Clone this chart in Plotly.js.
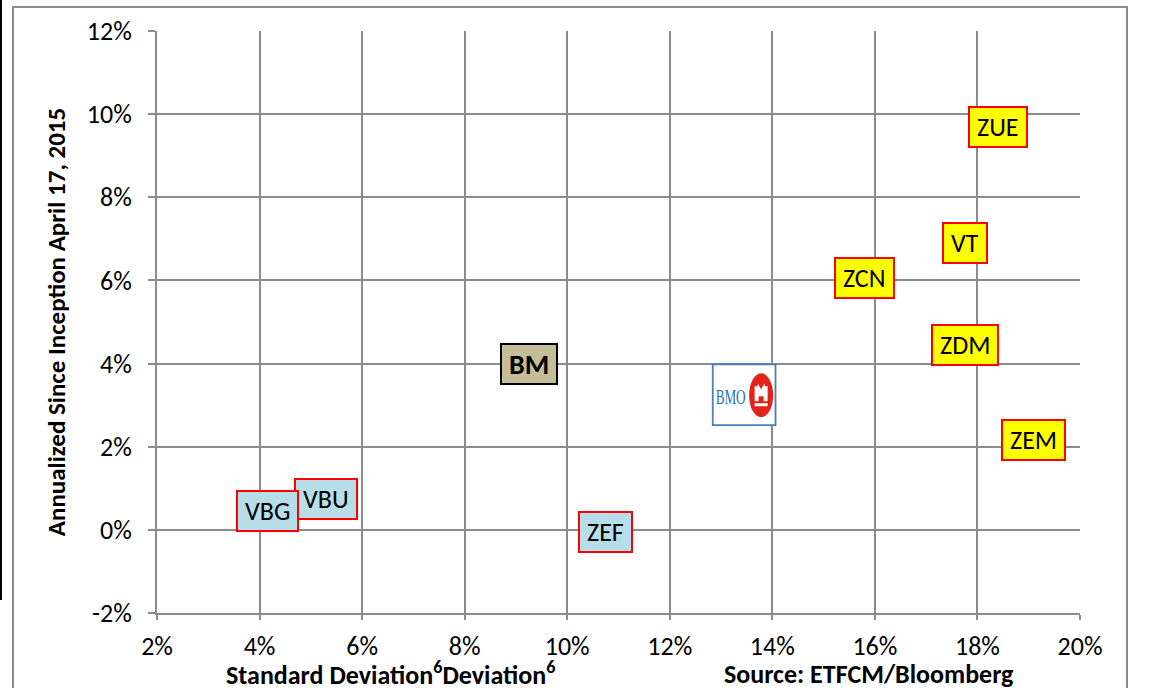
<!DOCTYPE html>
<html>
<head>
<meta charset="utf-8">
<script src="https://cdn.plot.ly/plotly-3.0.1.min.js"></script>
<style>html,body{margin:0;padding:0;background:#fff;}#chart{width:1153px;height:688px;}</style>
</head>
<body>
<div id="chart"></div>
<script>
// ---- data ----
const tickers   = ["ZUE", "VT", "ZCN", "ZDM", "ZEM", "ZEF", "VBU", "VBG", "BM"];
const stdDev    = [18.4, 17.75, 15.8, 17.75, 19.1, 10.75, 5.3, 4.15, 9.25];   // %
const annReturn = [9.7, 6.9, 6.05, 4.45, 2.15, -0.05, 0.75, 0.45, 4.0];       // %
const groups    = ["equity", "equity", "equity", "equity", "equity", "bond", "bond", "bond", "benchmark"];
const bmoPoint  = {x: 13.45, y: 3.25};
const xTicks    = [2, 4, 6, 8, 10, 12, 14, 16, 18, 20];
const yTicks    = [-2, 0, 2, 4, 6, 8, 10, 12];

// ---- styling ----
const FONT = "Carlito, Lato, 'Liberation Sans', sans-serif";
const groupStyle = {
  equity:    {bg: "#ffff00", border: "#ff0000", bold: false, size: 26},
  bond:      {bg: "#b7dde8", border: "#ff0000", bold: false, size: 26},
  benchmark: {bg: "#c4bd97", border: "#000000", bold: true,  size: 28}
};

const annotations = tickers.map((t, i) => {
  const s = groupStyle[groups[i]];
  return {
    x: stdDev[i], y: annReturn[i], xref: "x", yref: "y",
    text: s.bold ? "<b>" + t + "</b>" : t,
    showarrow: false, xanchor: "center", yanchor: "middle",
    height: 24,
    bgcolor: s.bg, bordercolor: s.border, borderwidth: 2, borderpad: 7,
    font: {family: FONT, size: s.size, color: "#000"}
  };
});

annotations.push({
  xref: "paper", yref: "paper", x: (390 - 157) / 923, y: (613 - 673) / 582,
  xanchor: "center", yanchor: "middle", showarrow: false,
  text: "<b>Standard Deviation<sup>6</sup>Deviation<sup>6</sup></b>",
  font: {family: FONT, size: 26, color: "#000"}
});
annotations.push({
  xref: "paper", yref: "paper", x: (869 - 157) / 923, y: (613 - 674) / 582,
  xanchor: "center", yanchor: "middle", showarrow: false,
  text: "<b>Source: ETFCM/Bloomberg</b>",
  font: {family: FONT, size: 26, color: "#000"}
});

// BMO logo as inline SVG
const bmoSvg =
  "<svg xmlns='http://www.w3.org/2000/svg' width='65' height='63' viewBox='0 0 65 63'>" +
  "<rect x='1' y='1' width='63' height='61' fill='white' stroke='#4a7ebb' stroke-width='2'/>" +
  "<text x='4' y='41' font-family='Liberation Serif, serif' font-size='20' fill='#1f6fb5' textLength='30' lengthAdjust='spacingAndGlyphs'>BMO</text>" +
  "<ellipse cx='49.5' cy='32' rx='12' ry='22' fill='#e2231a'/>" +
  "<path d='M43 23 L46 23 L46 20 L49.5 26 L53 20 L53 23 L56 23 L56 38 L52 38 L52 33 L47 33 L47 38 L43 38 Z' fill='white'/>" +
  "<rect x='43' y='40' width='13' height='3' fill='white'/>" +
  "</svg>";
const pxPerX = 923 / 18, pxPerY = 582 / 14;

const layout = {
  width: 1153, height: 688,
  margin: {l: 157, r: 73, t: 31, b: 75, pad: 0},
  paper_bgcolor: "#ffffff", plot_bgcolor: "#ffffff",
  showlegend: false,
  font: {family: FONT, size: 26, color: "#000"},
  xaxis: {
    range: [2, 20], tickvals: xTicks, ticktext: xTicks.map(v => v + "%"),
    showgrid: true, gridcolor: "#8c8c8c", gridwidth: 2,
    showline: true, linecolor: "#8c8c8c", linewidth: 2,
    ticks: "outside", ticklen: 5, tickcolor: "#8c8c8c", tickwidth: 2,
    ticklabelstandoff: 4, zeroline: false, fixedrange: true,
    tickfont: {family: FONT, size: 26, color: "#000"}
  },
  yaxis: {
    range: [-2, 12], tickvals: yTicks, ticktext: yTicks.map(v => v + "%"),
    showgrid: true, gridcolor: "#8c8c8c", gridwidth: 2,
    showline: true, linecolor: "#8c8c8c", linewidth: 2,
    ticks: "outside", ticklen: 7, tickcolor: "#8c8c8c", tickwidth: 2,
    ticklabelstandoff: 11, zeroline: false, fixedrange: true,
    tickfont: {family: FONT, size: 26, color: "#000"},
    title: {text: "<b>Annualized Since Inception April 17, 2015</b>", standoff: 14,
            font: {family: FONT, size: 25, color: "#000"}}
  },
  annotations: annotations,
  images: [{
    source: "data:image/svg+xml;charset=utf-8," + encodeURIComponent(bmoSvg),
    xref: "x", yref: "y", x: bmoPoint.x, y: bmoPoint.y,
    sizex: 65 / pxPerX, sizey: 63 / pxPerY, sizing: "stretch",
    xanchor: "center", yanchor: "middle", layer: "above"
  }],
  shapes: [
    {type: "rect", xref: "paper", yref: "paper",
     x0: (13 - 157) / 923, x1: (1127 - 157) / 923, y0: -0.3, y1: (613 - 7) / 582,
     line: {color: "#8c8c8c", width: 2}, fillcolor: "rgba(0,0,0,0)", layer: "below"},
    {type: "line", xref: "paper", yref: "paper",
     x0: (1 - 157) / 923, x1: (1 - 157) / 923, y0: (613 - 600) / 582, y1: 1.1,
     line: {color: "#000", width: 2}}
  ]
};

const traces = [{
  type: "scatter", mode: "markers",
  x: stdDev.concat([bmoPoint.x]), y: annReturn.concat([bmoPoint.y]),
  marker: {size: 1, opacity: 0}, hoverinfo: "skip", cliponaxis: false
}];

Plotly.newPlot("chart", traces, layout, {displayModeBar: false, staticPlot: true});
</script>
</body>
</html>
